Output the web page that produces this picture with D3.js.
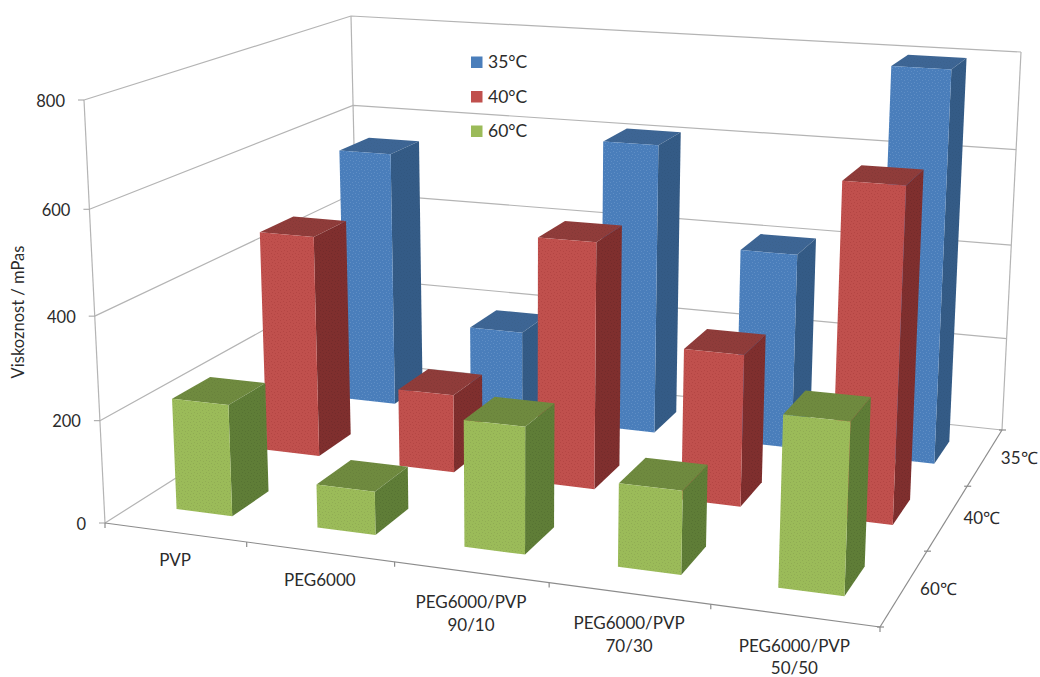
<!DOCTYPE html>
<html><head><meta charset="utf-8">
<script src="https://cdn.jsdelivr.net/npm/d3@7/dist/d3.min.js"></script>
<style>html,body{margin:0;padding:0;background:#fff}svg{display:block}text{font-family:Lato,"Open Sans",sans-serif;fill:#2b2b2b}</style>
</head><body><svg id="c" width="1040" height="677"></svg>
<script>
const categories = [["PVP"],["PEG6000"],["PEG6000/PVP","90/10"],["PEG6000/PVP","70/30"],["PEG6000/PVP","50/50"]];
const seriesNames = ["60°C","40°C","35°C"];
const depthLabels = ["60℃","40℃","35℃"];
const values60 = [219,84,241,156,314];
const values40 = [457,160,494,301,647];
const values35 = [553,189,612,408,800];
const yTicks = [0,200,400,600,800];
const legendOrder = ["35°C","40°C","60°C"];

const palette = {
  "35°C":{front:"#4a7ebb",top:"#3d6594",side:"#345b86",dot:"#8fb4dc",op:.3},
  "40°C":{front:"#c0504d",top:"#8f3c3a",side:"#7f2f2e",dot:"#a83c3a",op:.55},
  "60°C":{front:"#9bbb59",top:"#6f8a3f",side:"#5f7d37",dot:"#86a04f",op:.55}
};
const seriesValues = {"60°C":values60,"40°C":values40,"35°C":values35};

// frame of the 3-D box on the page
const floorQ = [[105,523],[880,627],[1002,430],[359,362]];
const ceilQ  = [[84,100],[898,155],[1021,52],[351,16]];
const heightPerspective = 1.045;
function homography(q){
  const [[x0,y0],[x1,y1],[x2,y2],[x3,y3]] = q;
  const dx1=x1-x2,dx2=x3-x2,sx=x0-x1+x2-x3,dy1=y1-y2,dy2=y3-y2,sy=y0-y1+y2-y3;
  const d=dx1*dy2-dx2*dy1;
  const g=(sx*dy2-dx2*sy)/d,h=(dx1*sy-sx*dy1)/d;
  const a=x1-x0+g*x1,b=x3-x0+h*x3,c=x0,e=y1-y0+g*y1,f=y3-y0+h*y3,i=y0;
  return (u,v)=>{const w=g*u+h*v+1;return [(a*u+b*v+c)/w,(e*u+f*v+i)/w];};
}
const hFloor=homography(floorQ), hCeil=homography(ceilQ);

const xBand=d3.scaleBand().domain(d3.range(categories.length)).range([0,1]).paddingInner(0.6).paddingOuter(0.3);
const zBand=d3.scaleBand().domain(seriesNames).range([0,1]).paddingInner(0.6).paddingOuter(0.3);
const xCell=d3.scaleBand().domain(d3.range(categories.length)).range([0,1]);
const zCell=d3.scaleBand().domain(seriesNames).range([0,1]);
const yScale=d3.scaleLinear().domain([0,800]).range([0,1]);
function P(u,v,val){
  const a=hFloor(u,v),b=hCeil(u,v),s=yScale(val),t=s/(s+(1-s)*heightPerspective);
  return [a[0]+(b[0]-a[0])*t,a[1]+(b[1]-a[1])*t];
}
const svg=d3.select("#c");
const line=d3.line();
const defs=svg.append("defs");
Object.entries(palette).forEach(([k,c],i)=>{
  [["front",c.front,c.dot],["top",c.top,d3.color(c.top).darker(.35)],["side",c.side,d3.color(c.side).darker(.5)]].forEach(([f,base,dot])=>{
    const p=defs.append("pattern").attr("id","p"+i+f).attr("width",6).attr("height",6).attr("patternUnits","userSpaceOnUse");
    p.append("rect").attr("width",6).attr("height",6).attr("fill",base);
    [[1,1],[4,2],[2,4],[5,5]].forEach(d=>p.append("rect").attr("x",d[0]).attr("y",d[1]).attr("width",1).attr("height",1).attr("fill",dot).attr("opacity",c.op));
  });
});

// walls
const grid=svg.append("g").attr("fill","none").attr("stroke","#b4b4b4").attr("stroke-width",1.2);
yTicks.forEach(t=>{
  const p=P(0,0,t);
  grid.append("path").attr("d",line([p,P(0,1,t),P(1,1,t)]));
  svg.append("path").attr("d",line([p,[p[0]-6,p[1]]])).attr("stroke","#a0a0a0");
  svg.append("text").attr("x",p[0]-19).attr("y",p[1]+1).attr("dy","0.35em").attr("text-anchor","end").attr("font-size",16.5).text(t);
});
grid.append("path").attr("d",line([P(0,0,0),P(0,0,800)]));
grid.append("path").attr("d",line([P(0,1,0),P(0,1,800)]));
grid.append("path").attr("d",line([P(1,1,0),P(1,1,800)]));
const ax=svg.append("g").attr("fill","none").attr("stroke","#8c8c8c").attr("stroke-width",1.2);
ax.append("path").attr("d",line([P(0,0,0),P(1,0,0)]));
ax.append("path").attr("d",line([P(1,0,0),P(1,1,0)]));
d3.range(categories.length+1).forEach(i=>{
  const u=i/categories.length,p=P(u,0,0);
  ax.append("path").attr("d",line([p,[p[0],p[1]+5]]));
});
d3.range(seriesNames.length+1).forEach(i=>{
  const v=i/seriesNames.length,p=P(1,v,0);
  ax.append("path").attr("d",line([[p[0]-3,p[1]],[p[0]+4,p[1]]]));
});

// bars back to front
[...seriesNames].reverse().forEach(name=>{
  const idx=Object.keys(palette).indexOf(name), vs=seriesValues[name];
  const z0=zBand(name), z1=z0+zBand.bandwidth();
  const g=svg.append("g").attr("class","series");
  vs.forEach((val,i)=>{
    const x0=xBand(i), x1=x0+xBand.bandwidth();
    const fbl=P(x0,z0,0),fbr=P(x1,z0,0),bbr=P(x1,z1,0);
    const ftl=P(x0,z0,val),ftr=P(x1,z0,val),btr=P(x1,z1,val),btl=P(x0,z1,val);
    g.append("path").attr("d",line([ftl,ftr,btr,btl])+"Z").attr("fill",`url(#p${idx}top)`);
    g.append("path").attr("d",line([fbr,bbr,btr,ftr])+"Z").attr("fill",`url(#p${idx}side)`);
    g.append("path").attr("d",line([fbl,fbr,ftr,ftl])+"Z").attr("fill",`url(#p${idx}front)`);
  });
});

// category labels
categories.forEach((lines,i)=>{
  const p=P(xCell(i)+xCell.bandwidth()/2,0,0);
  const t=svg.append("text").attr("text-anchor","middle").attr("font-size",17);
  lines.forEach((s,k)=>t.append("tspan").attr("x",p[0]).attr("y",p[1]+(lines.length>1?36:34)+k*22.5).text(s));
});
// depth labels
seriesNames.forEach((n,i)=>{
  const p=P(1,zCell(n)+zCell.bandwidth()/2,0);
  svg.append("text").attr("x",p[0]+34).attr("y",p[1]+1).attr("dy","0.35em").attr("text-anchor","middle").attr("font-size",17).text(depthLabels[i]);
});
// axis title
svg.append("text").attr("transform","translate(18,312) rotate(-90)").attr("text-anchor","middle").attr("dy","0.35em").attr("font-size",16.5).text("Viskoznost / mPas");
// legend
const legY=d3.scalePoint().domain(legendOrder).range([62,131]);
legendOrder.forEach(n=>{
  svg.append("rect").attr("x",471).attr("y",legY(n)-5.5).attr("width",11.5).attr("height",11.5).attr("fill",palette[n].front);
  svg.append("text").attr("x",488).attr("y",legY(n)).attr("dy","0.35em").attr("font-size",17.5).text(n);
});
</script></body></html>
